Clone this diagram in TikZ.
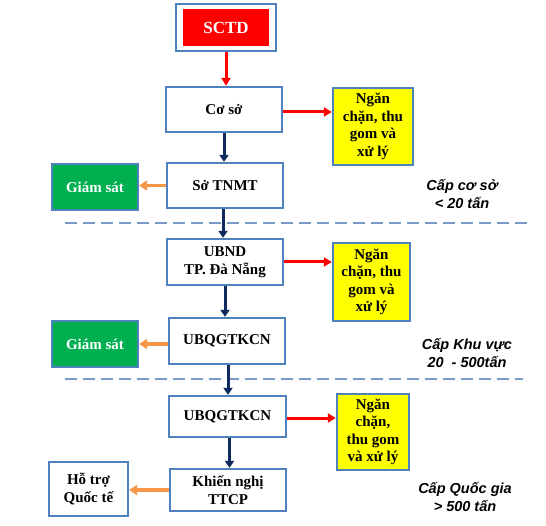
\documentclass[tikz,border=0pt]{standalone}
\usepackage{fontspec}
\setmainfont{Liberation Serif}
\newfontfamily\notefont{Liberation Sans}
\usetikzlibrary{arrows.meta,positioning}
\definecolor{Frame}{HTML}{4F81BD}
\definecolor{Sep}{HTML}{7A9CCB}
\definecolor{Alarm}{HTML}{FF0000}
\definecolor{Lemon}{HTML}{FFFF00}
\definecolor{Leaf}{HTML}{00B050}
\definecolor{Navy}{HTML}{0F2A5C}
\definecolor{Amber}{HTML}{F79646}

\begin{document}
\begin{tikzpicture}[x=1pt,y=-1pt,
    box/.style={draw=Frame,line width=2.3pt,fill=white,inner sep=0pt,
      align=center,font=\fontsize{15}{17.5}\selectfont\bfseries},
    actbox/.style={box,fill=Lemon},
    watchbox/.style={box,fill=Leaf,text=white},
    redline/.style={Alarm,line width=3pt,-{Triangle[length=8pt,width=9pt]}},
    downline/.style={Navy,line width=3pt,-{Triangle[length=7pt,width=9pt]}},
    sideline/.style={Amber,line width=3.2pt,-{Triangle[length=8pt,width=10pt]}},
    level/.style={font=\fontsize{14.5}{18}\selectfont\notefont\bfseries\itshape,align=center},
    sep/.style={Sep,line width=1.7pt,dash pattern=on 12pt off 6pt}]
  \useasboundingbox (0,0) rectangle (546,526);

  % main column
  \node[box,minimum width=100pt,minimum height=47pt] (sctd) at (226,27.5) {};
  \node[fill=Alarm,text=white,minimum width=86pt,minimum height=37pt,
    font=\fontsize{17}{19}\selectfont\bfseries] (sctdin) at (sctd) {SCTD};
  \node[box,minimum width=116pt,minimum height=45pt] (coso) at (224,109.5) {Cơ sở};
  \node[box,minimum width=116pt,minimum height=45pt] (tnmt) at (225,185.5) {Sở TNMT};
  \node[box,minimum width=116pt,minimum height=46pt] (ubnd) at (225,262) {UBND\\TP. Đà Nẵng};
  \node[box,minimum width=116pt,minimum height=46pt] (kcn) at (227,341) {UBQGTKCN};
  \node[box,minimum width=117pt,minimum height=41pt] (qg) at (227.5,416.5) {UBQGTKCN};
  \node[box,minimum width=116pt,minimum height=42pt] (ttcp) at (228,490) {Khiến nghị\\TTCP};

  % right column
  \node[actbox,minimum width=80pt,minimum height=77pt] (act1) at (373,126.5) {Ngăn\\chặn, thu\\gom và\\xử lý};
  \node[actbox,minimum width=77pt,minimum height=78pt] (act2) at (371.5,282) {Ngăn\\chặn, thu\\gom và\\xử lý};
  \node[actbox,minimum width=72pt,minimum height=76pt] (act3) at (373,432) {Ngăn\\chặn,\\thu gom\\và xử lý};

  % left column
  \node[watchbox,minimum width=86pt,minimum height=46pt] (gs1) at (95,187) {Giám sát};
  \node[watchbox,minimum width=86pt,minimum height=46pt] (gs2) at (95,344) {Giám sát};
  \node[box,minimum width=79pt,minimum height=54pt] (htqt) at (88.5,489) {Hỗ trợ\\Quốc tế};

  % levels
  \draw[sep] (65,223) -- (530,223);
  \draw[sep] (65,379) -- (523,379);
  \node[level] (lv1) at (462,194) {Cấp cơ sở\\< 20 tấn};
  \node[level] (lv2) at (467,353) {Cấp Khu vực\\20~ - 500tấn};
  \node[level] (lv3) at (465,497) {Cấp Quốc gia\\> 500 tấn};

  % connectors
  \draw[redline] (sctd.south) -- (sctd.south |- coso.north);
  \draw[downline] (coso.south) -- (coso.south |- tnmt.north);
  \draw[downline] ([xshift=-2pt]tnmt.south) -- ([xshift=-2pt]tnmt.south |- ubnd.north);
  \draw[downline] (ubnd.south) -- (ubnd.south |- kcn.north);
  \draw[downline] ([xshift=1pt]kcn.south) -- ([xshift=1pt]kcn.south |- qg.north);
  \draw[downline] ([xshift=2pt]qg.south) -- ([xshift=2pt]qg.south |- ttcp.north);
  \draw[redline] ([yshift=-2.5pt]coso.east) -- ([yshift=-2.5pt]coso.east -| act1.west);
  \draw[redline] (ubnd.east) -- (ubnd.east -| act2.west);
  \draw[redline] ([yshift=-1.5pt]qg.east) -- ([yshift=-1.5pt]qg.east -| act3.west);
  \draw[sideline] (tnmt.west) -- (tnmt.west -| gs1.east);
  \draw[sideline] ([yshift=-3pt]kcn.west) -- ([yshift=-3pt]kcn.west -| gs2.east);
  \draw[sideline] (ttcp.west) -- (ttcp.west -| htqt.east);
\end{tikzpicture}
\end{document}
